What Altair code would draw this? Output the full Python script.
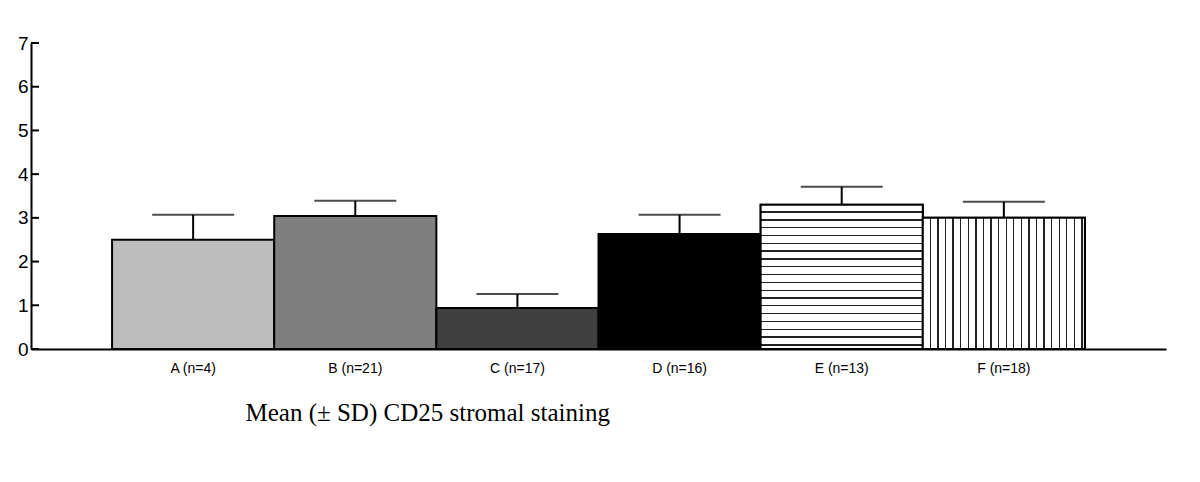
import altair as alt
import pandas as pd

labels = ["A (n=4)", "B (n=21)", "C (n=17)", "D (n=16)", "E (n=13)", "F (n=18)"]
means = [2.50, 3.04, 0.94, 2.63, 3.30, 3.00]
sds = [0.57, 0.35, 0.32, 0.44, 0.41, 0.37]
fills = ["#bdbdbd", "#7f7f7f", "#404040", "#000000", "#ffffff", "#ffffff"]
y_ticks = [0, 1, 2, 3, 4, 5, 6, 7]
title_text = "Mean (\u00b1 SD) CD25 stromal staining"

df = pd.DataFrame({"label": labels, "mean": means, "sd": sds})
df["top"] = df["mean"] + df["sd"]
ticks_df = pd.DataFrame({"v": y_ticks})


def stripe_stops(period, first, thick, color="#222222"):
    stops = [alt.GradientStop(offset=0, color="white")]
    o = first
    while o + thick / 2 < 1.0:
        a = max(o - thick / 2, 0.0)
        b = min(o + thick / 2, 1.0)
        stops += [
            alt.GradientStop(offset=a, color="white"),
            alt.GradientStop(offset=a, color=color),
            alt.GradientStop(offset=b, color=color),
            alt.GradientStop(offset=b, color="white"),
        ]
        o += period
    stops.append(alt.GradientStop(offset=1, color="white"))
    return stops


W, H = 1135, 306

x_enc = alt.X(
    "label:N",
    sort=labels,
    scale=alt.Scale(paddingInner=0, paddingOuter=0.5),
    axis=alt.Axis(
        title=title_text,
        labelAngle=0,
        ticks=False,
        grid=False,
        domainColor="black",
        domainWidth=2,
        labelFont="Liberation Sans",
        labelFontSize=14,
        labelColor="black",
        labelPadding=12,
        titleFont="Liberation Serif",
        titleFontSize=25,
        titleFontWeight="normal",
        titleColor="black",
        titleAnchor="start",
        titleAlign="left",
        titleBaseline="alphabetic",
        titleX=214,
        titleY=71,
    ),
)
y_scale = alt.Scale(domain=[0, 7], nice=False, zero=True)
y_enc = alt.Y(
    "mean:Q",
    scale=y_scale,
    axis=alt.Axis(
        title=None,
        values=y_ticks,
        ticks=False,
        grid=False,
        domainColor="black",
        domainWidth=2,
        labelFont="Liberation Sans",
        labelFontSize=19,
        labelColor="black",
        labelPadding=3,
    ),
)

base = alt.Chart(df)

bars = base.mark_bar(stroke="black", strokeWidth=2).encode(
    x=x_enc,
    y=y_enc,
    color=alt.Color("label:N", scale=alt.Scale(domain=labels, range=fills), legend=None),
)

e_grad = alt.LinearGradient(
    gradient="linear", x1=0, y1=0, x2=0, y2=1,
    stops=stripe_stops(7.8 / 144, 7.3 / 144, 1.3 / 144),
)
f_grad = alt.LinearGradient(
    gradient="linear", x1=0, y1=0, x2=1, y2=0,
    stops=stripe_stops(7.57 / 162, 7.6 / 162, 1.3 / 162),
)

bar_e = base.transform_filter(alt.datum.label == labels[4]).mark_bar(
    fill=e_grad, stroke="black", strokeWidth=2
).encode(x=alt.X("label:N", sort=labels), y=alt.Y("mean:Q", scale=y_scale))

bar_f = base.transform_filter(alt.datum.label == labels[5]).mark_bar(
    fill=f_grad, stroke="black", strokeWidth=2
).encode(x=alt.X("label:N", sort=labels), y=alt.Y("mean:Q", scale=y_scale))

err = base.mark_rule(color="black", strokeWidth=2).encode(
    x=alt.X("label:N", sort=labels), y=alt.Y("mean:Q", scale=y_scale), y2="top:Q"
)
caps = base.mark_tick(color="black", thickness=2, size=82).encode(
    x=alt.X("label:N", sort=labels), y=alt.Y("top:Q", scale=y_scale)
)

yticks = alt.Chart(ticks_df).mark_rule(color="black", strokeWidth=2).encode(
    y=alt.Y("v:Q", scale=y_scale), x=alt.value(0), x2=alt.value(8)
)

chart = (
    alt.layer(bars, bar_e, bar_f, err, caps, yticks)
    .properties(
        width=W,
        height=H,
        autosize=alt.AutoSizeParams(type="none"),
        padding={"left": 23, "top": 35, "right": 10, "bottom": 100},
        view=alt.ViewBackground(stroke="transparent", strokeWidth=0),
    )
    .configure_view(strokeWidth=0, stroke="transparent")
    .configure_axis(grid=False)
    .configure(background="white")
)

chart.save("out.html", embed_options={"renderer": "svg", "actions": False})
